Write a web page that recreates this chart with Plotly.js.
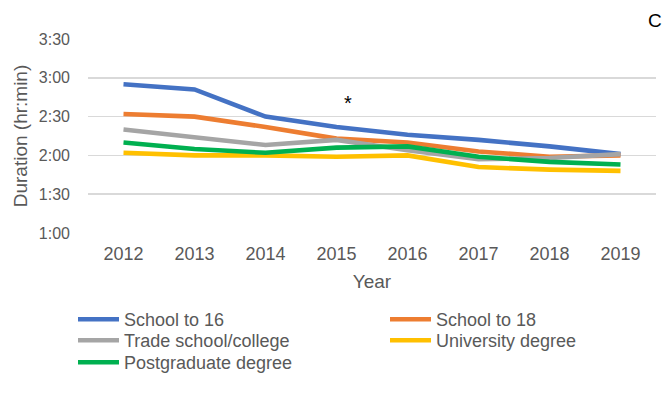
<!DOCTYPE html>
<html>
<head>
<meta charset="utf-8">
<script src="https://cdn.plot.ly/plotly-3.0.1.min.js"></script>
<style>html,body{margin:0;padding:0;background:#fff;}#chart{width:665px;height:408px;}</style>
</head>
<body>
<div id="chart"></div>
<script>
// Data (durations in hr:min)
const years = ["2012","2013","2014","2015","2016","2017","2018","2019"];
const seriesNames = ["School to 16","School to 18","Trade school/college","University degree","Postgraduate degree"];
const school16   = ["2:55","2:51","2:30","2:22","2:16","2:12","2:07","2:01"];
const school18   = ["2:32","2:30","2:22","2:13","2:10","2:03","1:59","2:00"];
const tradeSchool= ["2:20","2:14","2:08","2:12","2:04","1:57","1:58","2:01"];
const university = ["2:02","2:00","2:00","1:59","2:00","1:51","1:49","1:48"];
const postgrad   = ["2:10","2:05","2:02","2:06","2:07","1:59","1:55","1:53"];
const yTickLabels = ["1:00","1:30","2:00","2:30","3:00","3:30"];
const yTitle = "Duration (hr:min)";
const xTitle = "Year";
const starYear = "2015";
const starValue = "2:43";
const panelLabel = "C";

const colors = ["#4472C4","#ED7D31","#A5A5A5","#FFC000","#00B050"];
const toMin = s => { const p = s.split(":"); return (+p[0])*60 + (+p[1]); };
const allSeries = [school16, school18, tradeSchool, university, postgrad];

// legend grid: two columns, three rows (row-major order as in the reference)
const legendCol = [0, 1, 0, 1, 0];
const legendRow = [0, 0, 1, 1, 2];
const legendIds = ["legend","legend2","legend3","legend4","legend5"];
const colX = [73, 385];          // px from left
const rowTop = [301, 322, 344];  // px from top

const traces = allSeries.map((s, i) => ({
  type: "scatter", mode: "lines",
  x: years, y: s.map(toMin),
  name: seriesNames[i],
  legend: legendIds[i],
  line: {color: colors[i], width: 4.6},
  hoverinfo: "skip"
}));

const tickVals = yTickLabels.map(toMin);
const font = "Liberation Sans, Arial, sans-serif";

const layout = {
  width: 665, height: 408,
  margin: {l: 88, r: 9, t: 39, b: 175, pad: 0},
  paper_bgcolor: "#fff", plot_bgcolor: "#fff",
  font: {family: font, color: "#595959"},
  showlegend: true,
  xaxis: {
    type: "category", range: [-0.5, years.length - 0.5],
    showgrid: false, showline: false, zeroline: false, ticks: "",
    tickfont: {size: 18, color: "#595959"},
    ticklabelstandoff: 8,
    automargin: false,
    title: {text: xTitle, font: {size: 19, color: "#595959"}, standoff: 11}
  },
  yaxis: {
    range: [tickVals[0], tickVals[tickVals.length-1]],
    tickvals: tickVals, ticktext: yTickLabels,
    showgrid: true, gridcolor: "#D9D9D9", gridwidth: 1.5,
    showline: false, zeroline: false, ticks: "",
    tickfont: {size: 16, color: "#595959"},
    ticklabelstandoff: 17,
    automargin: false,
    title: {text: "\u00A0\u00A0\u00A0\u00A0" + yTitle, font: {size: 19, color: "#595959"}, standoff: 6}
  },
  shapes: [{
    type: "rect", xref: "paper", yref: "paper", layer: "between",
    x0: 0.958, x1: 1.03, y0: 0.98, y1: 1.02,
    fillcolor: "#fff", line: {width: 0}
  }],
  annotations: [
    {xref: "x", yref: "y", x: years.indexOf(starYear), xshift: 11, yshift: -3, y: toMin(starValue),
     text: "*", showarrow: false, font: {size: 20, color: "#000"}},
    {xref: "paper", yref: "paper", x: (655-88)/568, y: 1 + (39-21)/194, xanchor: "center", yanchor: "middle",
     text: panelLabel, showarrow: false, font: {size: 19, color: "#000"}}
  ]
};

legendIds.forEach((id, i) => {
  layout[id] = {
    orientation: "h", xref: "container", yref: "container",
    x: colX[legendCol[i]] / 665, y: 1 - rowTop[legendRow[i]] / 408,
    xanchor: "left", yanchor: "top",
    font: {size: 18, color: "#595959"},
    itemwidth: 41, bgcolor: "rgba(0,0,0,0)", borderwidth: 0
  };
});

Plotly.newPlot("chart", traces, layout, {staticPlot: true, displayModeBar: false});
</script>
</body>
</html>
